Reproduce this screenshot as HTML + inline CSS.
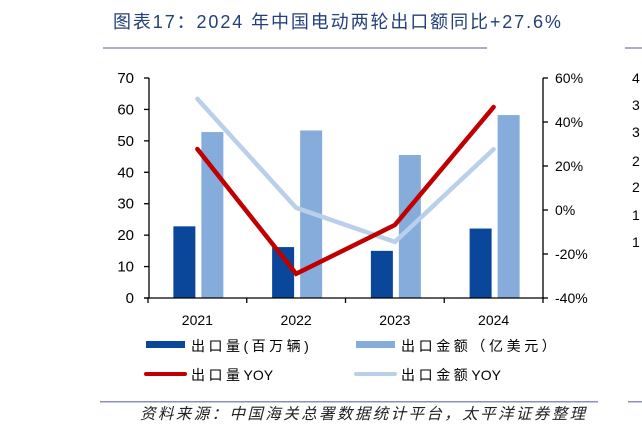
<!DOCTYPE html>
<html><head><meta charset="utf-8"><style>
body{margin:0;width:642px;height:438px;background:#fff;overflow:hidden;font-family:"Liberation Sans","Noto Sans CJK SC",sans-serif}
svg text{font-family:"Liberation Sans","Noto Sans CJK SC",sans-serif}
</style></head><body>
<svg id="c" width="642" height="438">
<text x="113" y="28" font-size="18" letter-spacing="1.9" fill="#24407a">图表17：2024 年中国电动两轮出口额同比+27.6%</text>
<rect x="103" y="47" width="384" height="2" fill="#a9aed0"/>
<rect x="625" y="47" width="17" height="2" fill="#a9aed0"/>
<g font-size="14" fill="#000">
<text x="632" y="83">4</text><text x="632" y="110">3</text><text x="632" y="137">3</text><text x="632" y="166">2</text><text x="632" y="192">2</text><text x="632" y="220">1</text><text x="632" y="247">1</text></g>
<g id="plot"></g>
<g font-size="14">
<rect x="146" y="341" width="39" height="7" fill="#0a4699"/>
<text x="191" y="351" letter-spacing="3.5">出口量(百万辆)</text>
<rect x="356" y="341" width="39" height="7" fill="#85acdb"/>
<text x="401" y="351" letter-spacing="3.6">出口金额（亿美元）</text>
<line x1="146" y1="374" x2="185" y2="374" stroke="#c00000" stroke-width="4" stroke-linecap="round"/>
<text x="191" y="380"><tspan letter-spacing="3.5">出口量</tspan>YOY</text>
<line x1="356" y1="374" x2="395" y2="374" stroke="#b9cfea" stroke-width="4" stroke-linecap="round"/>
<text x="401" y="380"><tspan letter-spacing="3.6">出口金额</tspan>YOY</text>
</g>
<rect x="100" y="401" width="498" height="1.5" fill="#8a8fbf"/>
<rect x="628" y="401" width="14" height="1.5" fill="#8a8fbf"/>
<text x="140" y="419" font-size="15.5" letter-spacing="2.4" font-style="italic" fill="#222">资料来源：中国海关总署数据统计平台，太平洋证券整理</text>
</svg>
<script>
const categories=["2021","2022","2023","2024"];
const volume=[22.8,16.2,15.0,22.1];
const value=[52.8,53.3,45.5,58.2];
const volumeYoy=[27.7,-29.0,-6.8,46.8];
const valueYoy=[50.5,1.0,-14.5,27.6];
const leftTicks=[0,10,20,30,40,50,60,70];
const rightTicks=[-40,-20,0,20,40,60];
const NS="http://www.w3.org/2000/svg";
const g=document.getElementById('plot');
const X0=148,X1=543,YT=78,YB=298;
const bw=(X1-X0)/categories.length;
const yL=v=>YB-(v/70)*(YB-YT);
const yR=v=>YB-((v+40)/100)*(YB-YT);
const cx=i=>X0+bw*(i+0.5);
function mk(t,a){const e=document.createElementNS(NS,t);for(const k in a)e.setAttribute(k,a[k]);g.appendChild(e);return e;}
categories.forEach((c,i)=>{
 let r=mk('rect',{x:cx(i)-24,y:yL(volume[i]),width:22,height:YB-yL(volume[i]),fill:'#0a4699'});
 
 
 r=mk('rect',{x:cx(i)+4,y:yL(value[i]),width:22,height:YB-yL(value[i]),fill:'#85acdb'});
 
 
 const t=mk('text',{x:cx(i),y:325,'font-size':14,'text-anchor':'middle'});t.textContent=c;
 
 
});
function line(d,col,name){const p=mk('polyline',{points:d.map((v,i)=>cx(i)+','+yR(v)).join(' '),fill:'none',stroke:col,'stroke-width':4.5,'stroke-linejoin':'miter','stroke-linecap':'round'});
 
 }
line(valueYoy,'#b9cfea','line-value-yoy');
line(volumeYoy,'#c00000','line-volume-yoy');
let a=mk('path',{d:`M${X0+1} ${YT}V${YB}M${X0-4} ${YB}H${X1+1}M${X1} ${YT}V${YB}`,stroke:'#000','stroke-width':1.3,fill:'none'});


for(let i=0;i<=categories.length;i++){const k=mk('line',{x1:X0+bw*i,x2:X0+bw*i,y1:YB,y2:YB+5,stroke:'#000','stroke-width':1.3});
 
 }
leftTicks.forEach(v=>{const k=mk('line',{x1:X0-4,x2:X0+1,y1:yL(v),y2:yL(v),stroke:'#000','stroke-width':1.3});
 
 
 const t=mk('text',{x:X0-14,y:yL(v)+5,'font-size':15,'text-anchor':'end'});t.textContent=v;
 
 });
rightTicks.forEach(v=>{const k=mk('line',{x1:X1,x2:X1+5,y1:yR(v),y2:yR(v),stroke:'#000','stroke-width':1.3});
 
 
 const t=mk('text',{x:X1+12,y:yR(v)+5,'font-size':14});t.textContent=v+'%';
 
 });
</script>
</body></html>
